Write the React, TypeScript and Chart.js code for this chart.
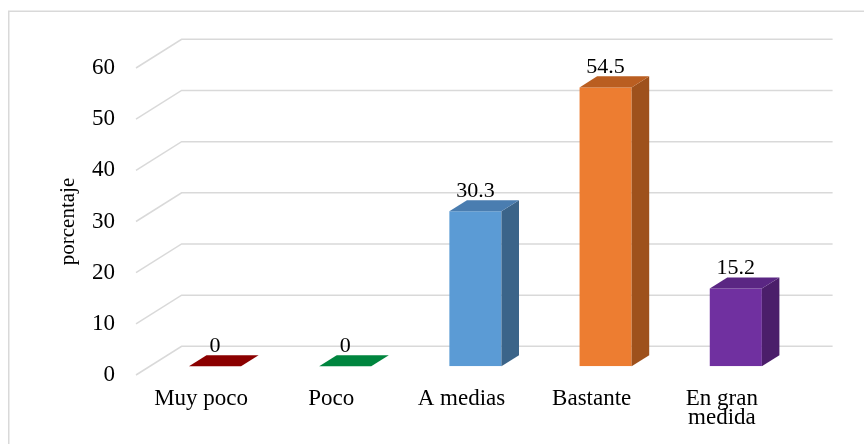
import { useEffect, useRef } from 'react';
import { Chart, registerables } from 'chart.js';

Chart.register(...registerables);

// Categories and their percentages
const categories: (string | string[])[] = ['Muy poco', 'Poco', 'A medias', 'Bastante', ['En gran', 'medida']];
const porcentajes = [0, 0, 30.3, 54.5, 15.2];

// Value axis
const yMin = 0;
const yMax = 60;
const yStep = 10;
const yTitle = 'porcentaje';

// Face colours of each 3D column
const frontColors = ['#A00000', '#00A04A', '#5B9BD5', '#ED7D31', '#7030A0'];
const sideColors = ['#700000', '#006B31', '#3B6489', '#9E511C', '#4B1E6A'];
const topColors = ['#8B0000', '#00853E', '#4A7DB0', '#BA5E21', '#5A2683'];

const FONT = "'Liberation Serif', 'Times New Roman', serif";
const GRID = '#d9d9d9';

// Floor depth: vector from the front edge to the back wall
const DEPTH_X = 45.6;
const DEPTH_Y = -28.7;
// Column placement inside the floor depth (fractions of it)
const BAR_START = 0.305;
const BAR_DEPTH = 0.385;

const box3dPlugin = {
  id: 'box3d',
  beforeDraw(chart: any) {
    const { ctx, width, height } = chart;
    ctx.save();
    ctx.fillStyle = '#ffffff';
    ctx.fillRect(0, 0, width, height);
    ctx.strokeStyle = GRID;
    ctx.lineWidth = 1.5;
    ctx.strokeRect(8.75, 11.25, width + 40, height + 40);
    ctx.restore();
  },
  beforeDatasetsDraw(chart: any) {
    const { ctx, chartArea, scales } = chart;
    const y = scales.y;
    ctx.save();
    ctx.strokeStyle = GRID;
    ctx.lineWidth = 1.5;
    y.ticks.forEach((t: any) => {
      const py = y.getPixelForValue(t.value);
      ctx.beginPath();
      ctx.moveTo(chartArea.left, py);
      ctx.lineTo(chartArea.left + DEPTH_X, py + DEPTH_Y);
      ctx.lineTo(chartArea.right + DEPTH_X, py + DEPTH_Y);
      ctx.stroke();
    });
    ctx.restore();
    // columns sit part-way into the floor depth
    ctx.save();
    ctx.translate(DEPTH_X * BAR_START, DEPTH_Y * BAR_START);
  },
  afterDatasetsDraw(chart: any) {
    const { ctx } = chart;
    ctx.restore();
    const bx = DEPTH_X * BAR_START;
    const by = DEPTH_Y * BAR_START;
    const dx = DEPTH_X * BAR_DEPTH;
    const dy = DEPTH_Y * BAR_DEPTH;
    const meta = chart.getDatasetMeta(0);
    const values = chart.data.datasets[0].data as number[];
    ctx.save();
    meta.data.forEach((bar: any, i: number) => {
      const { x, y, base, width } = bar.getProps(['x', 'y', 'base', 'width'], true);
      const left = x - width / 2 + bx;
      const right = x + width / 2 + bx;
      const top = y + by;
      const bottom = base + by;
      // side face
      if (bottom - top > 0.5) {
        ctx.fillStyle = sideColors[i];
        ctx.beginPath();
        ctx.moveTo(right, top);
        ctx.lineTo(right + dx, top + dy);
        ctx.lineTo(right + dx, bottom + dy);
        ctx.lineTo(right, bottom);
        ctx.closePath();
        ctx.fill();
      }
      // top face
      ctx.fillStyle = topColors[i];
      ctx.beginPath();
      ctx.moveTo(left, top);
      ctx.lineTo(left + dx, top + dy);
      ctx.lineTo(right + dx, top + dy);
      ctx.lineTo(right, top);
      ctx.closePath();
      ctx.fill();
      // value label
      ctx.fillStyle = '#000000';
      ctx.font = `22px ${FONT}`;
      ctx.textAlign = 'center';
      ctx.textBaseline = 'alphabetic';
      ctx.fillText(String(values[i]), x + bx, top + dy - 3.5);
    });
    ctx.restore();
  },
};

export default function App() {
  const canvasRef = useRef<HTMLCanvasElement>(null);

  useEffect(() => {
    const canvas = canvasRef.current;
    if (!canvas) return;
    const chart = new Chart(canvas, {
      type: 'bar',
      data: {
        labels: categories,
        datasets: [
          {
            data: porcentajes,
            backgroundColor: frontColors,
            borderWidth: 0,
            categoryPercentage: 1,
            barPercentage: 0.4,
          },
        ],
      },
      options: {
        responsive: false,
        animation: false,
        events: [],
        layout: { padding: { left: 0, right: 77, top: 68, bottom: 0 } },
        plugins: {
          legend: { display: false },
          tooltip: { enabled: false },
        },
        scales: {
          x: {
            grid: { display: false, drawTicks: false },
            border: { display: false },
            ticks: {
              color: '#000000',
              font: { family: FONT, size: 23, lineHeight: 0.85 },
              padding: 14,
              maxRotation: 0,
              autoSkip: false,
            },
            afterFit(axis: any) {
              axis.height = 69;
            },
          },
          y: {
            min: yMin,
            max: yMax,
            grid: { display: false, drawTicks: false },
            border: { display: false },
            ticks: {
              stepSize: yStep,
              color: '#000000',
              font: { family: FONT, size: 23 },
              padding: 21,
            },
            title: {
              display: true,
              text: yTitle,
              color: '#000000',
              font: { family: FONT, size: 21 },
              padding: { top: 56, bottom: 0 },
            },
            afterFit(axis: any) {
              axis.width = 136;
            },
          },
        },
      },
      plugins: [box3dPlugin],
    });
    return () => chart.destroy();
  }, []);

  return (
    <div style={{ position: 'absolute', left: 0, top: 0, width: 864, height: 444 }}>
      <canvas ref={canvasRef} width={864} height={444} style={{ display: 'block' }} />
    </div>
  );
}
